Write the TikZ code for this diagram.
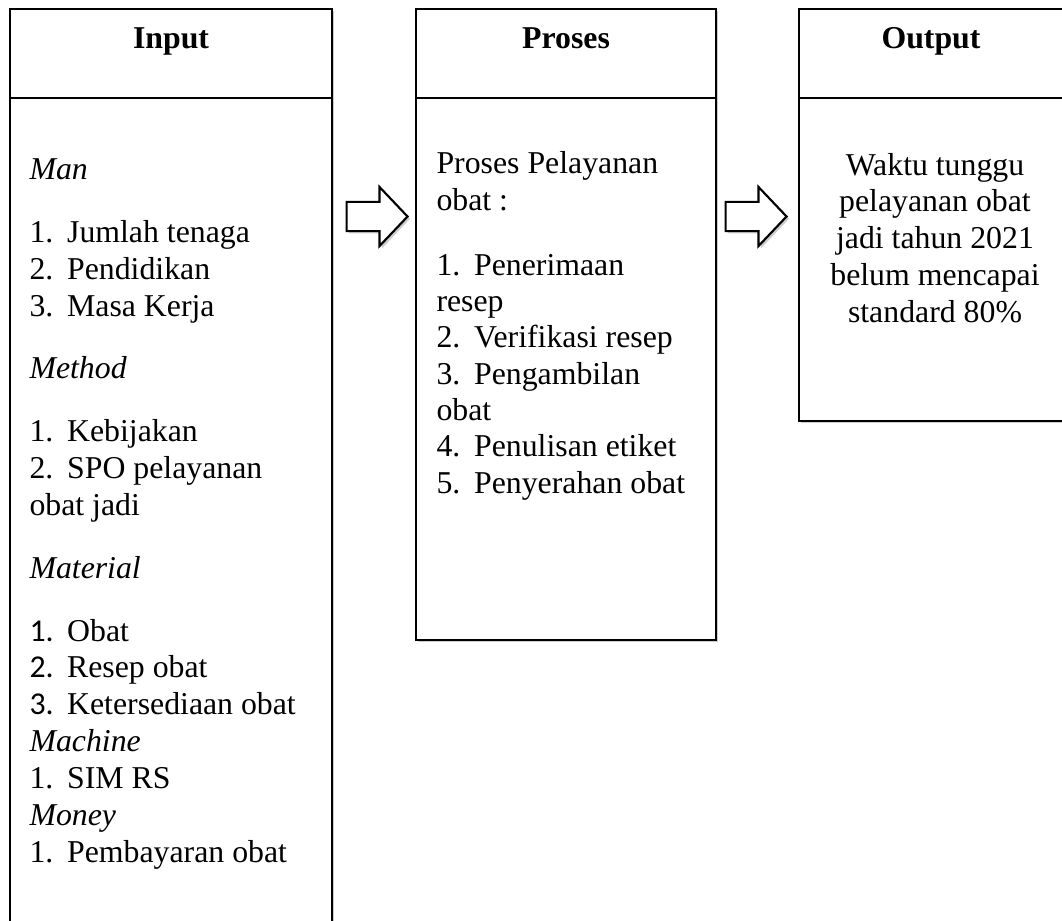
\documentclass[tikz,border=0pt]{standalone}
\usepackage{fontspec}
\setmainfont{Liberation Serif}
\newfontfamily\calibri{Carlito}
\usetikzlibrary{shapes.arrows,shadows,calc}

% numbered line with a hanging tab
\newcommand{\itm}[2]{\makebox[14.2pt][l]{#1}#2}

\begin{document}
\begin{tikzpicture}[x=0.3774pt,y=-0.3774pt]

\tikzset{
    colbox/.style={draw, line width=0.8pt, fill=white, anchor=north west, inner sep=0pt,
        drop shadow={shadow xshift=0.9pt, shadow yshift=-0.9pt, fill=black!40, opacity=0.5}},
    headtxt/.style={font=\fontsize{12}{13.9}\selectfont\bfseries, anchor=base, inner sep=0pt},
    bodytxt/.style={align=left, anchor=base west, inner sep=0pt},
    flowarrow/.style={single arrow, draw, line width=0.8pt, fill=white, inner sep=5.1pt,
        minimum height=23pt, minimum width=21.5pt, single arrow head extend=5.66pt,
        single arrow tip angle=93, anchor=tip,
        drop shadow={shadow xshift=0.9pt, shadow yshift=-0.9pt, fill=black!40, opacity=0.5}}
}

\useasboundingbox (0,0) rectangle (1062,920);

% the three columns
\node[colbox, minimum width=121.5pt, minimum height=350pt] (input) at (9,8) {};
\node[colbox, minimum width=113.2pt, minimum height=238.1pt] (proses) at (415,8) {};
\node[colbox, minimum width=99.6pt, minimum height=155.5pt] (output) at (798,8) {};

\foreach \col in {input,proses,output}
    \draw[line width=0.8pt] ($(\col.north west)+(0,90)$) -- ($(\col.north east)+(0,90)$);

\node[headtxt] (inputhead) at ($(input.north)+(0,40)$) {Input};
\node[headtxt] (proseshead) at ($(proses.north)+(0,40)$) {Proses};
\node[headtxt] (outputhead) at ($(output.north)+(0,40)$) {Output};

% column texts (placed by the baseline of their last line)
\node[bodytxt, font=\fontsize{12}{13.9}\selectfont] (inputtxt) at (29,862) {%
    \textit{Man}\\[9.8pt]
    \itm{1.}{Jumlah tenaga}\\
    \itm{2.}{Pendidikan}\\
    \itm{3.}{Masa Kerja}\\[9.8pt]
    \textit{Method}\\[9.8pt]
    \itm{1.}{Kebijakan}\\
    \itm{2.}{SPO pelayanan}\\
    obat jadi\\[9.8pt]
    \textit{Material}\\[9.8pt]
    \itm{\calibri 1.}{Obat}\\
    \itm{\calibri 2.}{Resep obat}\\
    \itm{\calibri 3.}{Ketersediaan obat}\\
    \textit{Machine}\\
    \itm{1.}{SIM RS}\\
    \textit{Money}\\
    \itm{1.}{Pembayaran obat}};

\node[bodytxt, font=\fontsize{12}{13.7}\selectfont] (prosestxt) at (436,493) {%
    Proses Pelayanan\\
    obat :\\[10.8pt]
    \itm{1.}{Penerimaan}\\
    resep\\
    \itm{2.}{Verifikasi resep}\\
    \itm{3.}{Pengambilan}\\
    obat\\
    \itm{4.}{Penulisan etiket}\\
    \itm{5.}{Penyerahan obat}};

\node[align=center, anchor=base, inner sep=0pt, font=\fontsize{12}{13.85}\selectfont] (outputtxt) at (935,322) {%
    Waktu tunggu\\
    pelayanan obat\\
    jadi tahun 2021\\
    belum mencapai\\
    standard 80\%};

% block arrows between the columns
\node[flowarrow] (arrowa) at (409,216.5) {};
\node[flowarrow] (arrowb) at (788,216.5) {};

\end{tikzpicture}
\end{document}
